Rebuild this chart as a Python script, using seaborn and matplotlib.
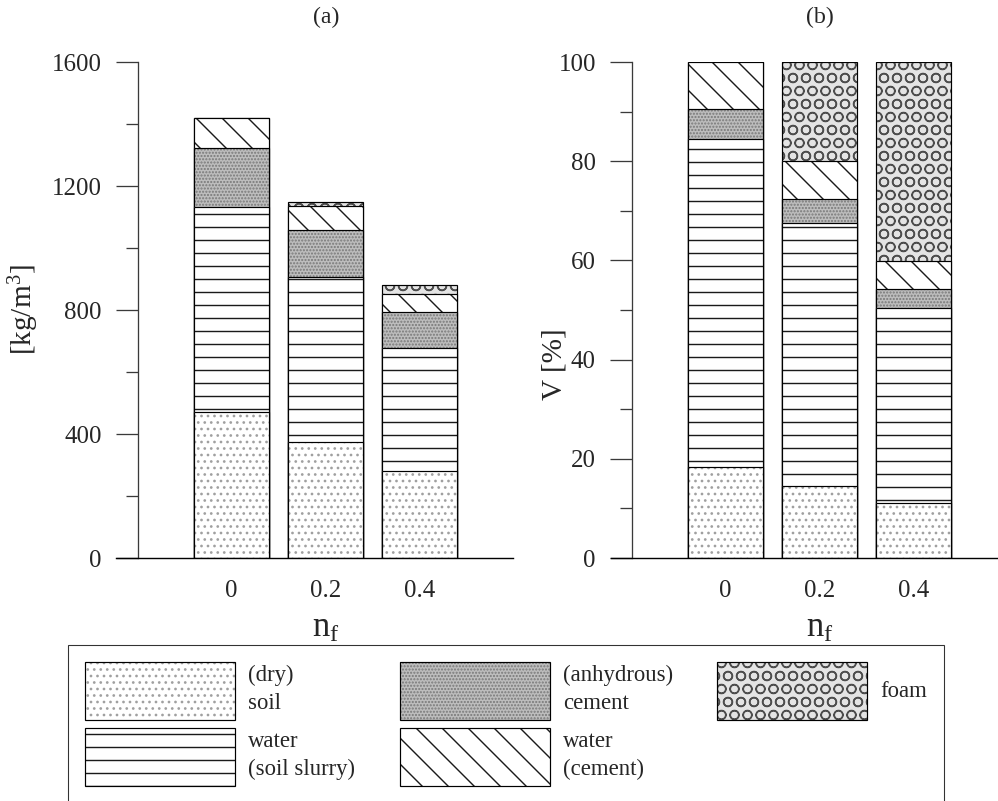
import numpy as np
import matplotlib
matplotlib.use("Agg")
import matplotlib.pyplot as plt
from matplotlib.patches import Patch
from matplotlib.ticker import MultipleLocator
from matplotlib.transforms import blended_transform_factory
from matplotlib.legend_handler import HandlerTuple
import seaborn as sns

# %%
nf_labels = ["0", "0.2", "0.4"]
components = ["soil", "water_slurry", "cement", "water_cement", "foam"]
legend_labels = ["(dry)\nsoil", "water\n(soil slurry)", "(anhydrous)\ncement",
                 "water\n(cement)", "foam"]

# (a) densities [kg/m3]
dens_soil = [471, 374, 281]
dens_water_slurry = [661, 532, 397]
dens_cement = [191, 152, 115]
dens_water_cement = [97, 77, 58]
dens_foam = [0, 14, 30]

# (b) volume fractions [%]
vol_soil = [18.3, 14.5, 11.0]
vol_water_slurry = [66.1, 53.0, 39.5]
vol_cement = [6.1, 4.8, 3.7]
vol_water_cement = [9.5, 7.7, 5.7]
vol_foam = [0.0, 20.0, 40.1]

styles = {
    "soil": dict(face="white", hatch="..", hcolor="#a0a0a0"),
    "water_slurry": dict(face="white", hatch="-", hcolor="#1a1a1a"),
    "cement": dict(face="#bdbdbd", hatch="....", hcolor="#787878"),
    "water_cement": dict(face="white", hatch="\\", hcolor="#1a1a1a"),
    "foam": dict(face="#e4e4e4", hatch="O", hcolor="#4d4d4d"),
}

# %%
sns.set_style("ticks")
plt.rcParams["font.family"] = "Liberation Serif"
plt.rcParams["mathtext.fontset"] = "custom"
plt.rcParams["mathtext.rm"] = "Liberation Serif"
plt.rcParams["mathtext.it"] = "Liberation Serif:italic"
plt.rcParams["hatch.linewidth"] = 1.3

DPI = 78
fig = plt.figure(figsize=(998 / DPI, 801 / DPI), dpi=DPI)
ax_a = fig.add_axes([116 / 998, 1 - 558 / 801, 397 / 998, 496 / 801])
ax_b = fig.add_axes([611 / 998, 1 - 558 / 801, 387 / 998, 496 / 801])


def stacked(ax, layers):
    tops = np.cumsum(np.array(layers, dtype=float), axis=0)
    # draw from the top layer down so the lower bars cover the upper ones
    for i in reversed(range(len(components))):
        st = styles[components[i]]
        sns.barplot(x=nf_labels, y=tops[i], ax=ax, color=st["face"], saturation=1,
                    width=0.8, hatch=st["hatch"], edgecolor=st["hcolor"],
                    linewidth=0, errorbar=None)
        sns.barplot(x=nf_labels, y=tops[i], ax=ax, fill=False, color="black",
                    width=0.8, linewidth=1.1, errorbar=None)


stacked(ax_a, [dens_soil, dens_water_slurry, dens_cement, dens_water_cement, dens_foam])
stacked(ax_b, [vol_soil, vol_water_slurry, vol_cement, vol_water_cement, vol_foam])


def style_axis(ax, xlim, ymax, major, minor, ylabel, ylabel_x, ylabel_y, title):
    ax.set_xlim(*xlim)
    ax.set_ylim(0, ymax)
    ax.spines[["top", "right"]].set_visible(False)
    ax.spines["left"].set_position(("data", -1))
    ax.spines["left"].set_color("#3a3a3a")
    ax.spines["left"].set_linewidth(1.2)
    ax.spines["bottom"].set_color("black")
    ax.spines["bottom"].set_linewidth(1.3)
    ax.yaxis.set_major_locator(MultipleLocator(major))
    ax.yaxis.set_minor_locator(MultipleLocator(minor))
    ax.tick_params(axis="y", which="major", length=20, width=1.2, color="#3a3a3a",
                   labelsize=23, pad=13)
    ax.tick_params(axis="y", which="minor", length=11, width=1.2, color="#3a3a3a")
    ax.tick_params(axis="x", which="both", length=0, labelsize=23, pad=20)
    ax.set_xlabel("")
    ax.set_ylabel(ylabel, fontsize=27)
    ax.yaxis.set_label_coords(ylabel_x, ylabel_y)
    tr = blended_transform_factory(ax.transData, ax.transAxes)
    ax.text(1, 1.09, title, transform=tr, ha="center", va="center", fontsize=22)
    ax.text(1, -0.159, r"n$_\mathrm{f}$", transform=tr, ha="center", va="baseline",
            fontsize=32)


style_axis(ax_a, (-1.23, 2.99), 1600, 400, 200, r"[kg/m$^3$]", -0.189, 0.5, "(a)")
style_axis(ax_b, (-1.22, 2.9), 100, 20, 10, "V [%]", -0.113, 0.39, "(b)")

# %%
handles = []
for c in components:
    st = styles[c]
    fill = Patch(facecolor=st["face"], hatch=st["hatch"], edgecolor=st["hcolor"], linewidth=0)
    outline = Patch(facecolor="none", edgecolor="black", linewidth=1.1)
    handles.append((fill, outline))

leg = fig.legend(handles, legend_labels, ncol=3, loc="upper left",
                 bbox_to_anchor=(68 / 998, 1 - 645 / 801), fontsize=21,
                 handlelength=6.6, handleheight=3.55, handletextpad=0.57,
                 labelspacing=0.35, columnspacing=1.95, borderpad=0.75,
                 borderaxespad=0, frameon=True, fancybox=False, framealpha=1,
                 edgecolor="#333333", handler_map={tuple: HandlerTuple(ndivide=1, pad=0)})
leg.get_frame().set_linewidth(1.0)
for t in leg.get_texts():
    t.set_linespacing(1.45)

fig.savefig("out.png", dpi=DPI)
